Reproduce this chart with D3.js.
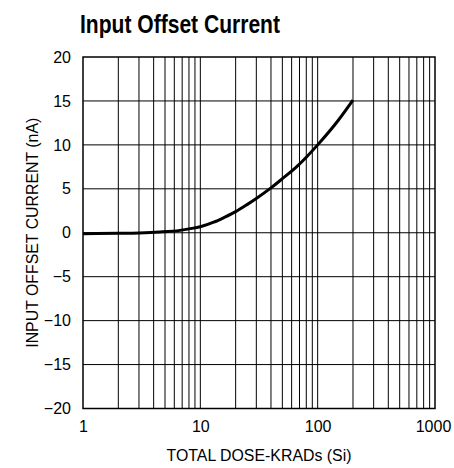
<!DOCTYPE html>
<html><head><meta charset="utf-8">
<script src="https://cdn.jsdelivr.net/npm/d3@7"></script>
<style>html,body{margin:0;padding:0;background:#fff;}</style>
</head><body>
<svg id="chart" width="454" height="468"></svg>
<script>
const title = "Input Offset Current";
const xAxisTitle = "TOTAL DOSE-KRADs (Si)";
const yAxisTitle = "INPUT OFFSET CURRENT (nA)";
const xTickValues = [1, 10, 100, 1000];
const yTickValues = [-20, -15, -10, -5, 0, 5, 10, 15, 20];
const doseKrad = [1, 2, 3, 4.5, 6.7, 8, 10, 13, 16, 20, 25, 30, 40, 50, 66, 80, 100, 150, 200];
const offsetCurrent = [-0.1, -0.06, -0.02, 0.08, 0.27, 0.44, 0.68, 1.2, 1.75, 2.4, 3.2, 3.9, 5.1, 6.15, 7.5, 8.6, 10.0, 12.8, 15.1];

const svg = d3.select("#chart");
const font = "'Liberation Sans',Arial,sans-serif";
const L = 83, R = 435, T = 57, B = 408.5;
const x = d3.scaleLog().domain([1, 1000]).range([L, R]);
const y = d3.scaleLinear().domain([-20, 20]).range([B, T]);

// grid
const minor = [];
for (let d = 1; d < 1000; d *= 10) for (let k = 1; k <= 9; k++) if (d * k > 1) minor.push(d * k);
svg.append("g").selectAll("line").data(minor).join("line")
  .attr("x1", d => x(d)).attr("x2", d => x(d)).attr("y1", T).attr("y2", B)
  .attr("stroke", "#000").attr("stroke-width", 1);
svg.append("g").selectAll("line").data(yTickValues.slice(1, -1)).join("line")
  .attr("x1", L).attr("x2", R).attr("y1", d => y(d)).attr("y2", d => y(d))
  .attr("stroke", "#000").attr("stroke-width", 1);
svg.append("rect").attr("x", L).attr("y", T).attr("width", R - L).attr("height", B - T)
  .attr("fill", "none").attr("stroke", "#000").attr("stroke-width", 1.5);

const xAxis = svg.append("g").attr("transform", `translate(0,${B})`)
  .call(d3.axisBottom(x).tickValues(xTickValues).tickFormat(d3.format("d")).tickSize(0).tickPadding(12));
const yFmt = d => d < 0 ? "\u2212" + Math.abs(d) : String(d);
const yAxis = svg.append("g").attr("transform", `translate(${L},0)`)
  .call(d3.axisLeft(y).tickValues(yTickValues).tickFormat(yFmt).tickSize(0).tickPadding(12));
[xAxis, yAxis].forEach(g => {
  g.select(".domain").remove();
  g.selectAll("text").attr("font-family", font).attr("font-size", 16).attr("fill", "#000");
});
// keep the last x label inside the page like the reference
xAxis.selectAll(".tick").filter(d => d === 1000).select("text").attr("dx", -2);

// curve
const line = d3.line().x((d, i) => x(doseKrad[i])).y(d => y(d)).curve(d3.curveMonotoneX);
svg.append("path").datum(offsetCurrent).attr("d", line)
  .attr("fill", "none").attr("stroke", "#000").attr("stroke-width", 3);

// titles
svg.append("text").attr("x", 80).attr("y", 33).text(title)
  .attr("font-family", font).attr("font-weight", "bold").attr("font-size", 25)
  .attr("textLength", 200).attr("lengthAdjust", "spacingAndGlyphs");
svg.append("text").attr("x", (L + R) / 2).attr("y", 461).attr("text-anchor", "middle").text(xAxisTitle)
  .attr("font-family", font).attr("font-size", 16)
  .attr("textLength", 185).attr("lengthAdjust", "spacingAndGlyphs");
svg.append("text").attr("transform", `translate(38,${(T + B) / 2}) rotate(-90)`).attr("text-anchor", "middle").text(yAxisTitle)
  .attr("font-family", font).attr("font-size", 16)
  .attr("textLength", 230).attr("lengthAdjust", "spacingAndGlyphs");
</script>
</body></html>
